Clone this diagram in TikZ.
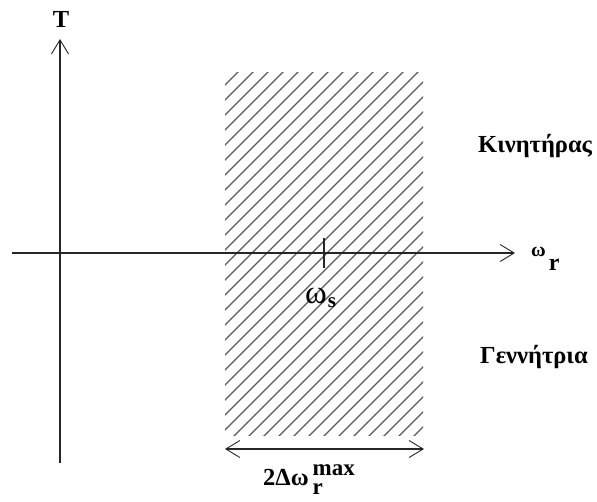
\documentclass[tikz,border=0pt]{standalone}
\usepackage{fontspec}
\setmainfont{Liberation Serif}
\usetikzlibrary{arrows.meta}
\begin{document}
\begin{tikzpicture}[x=1pt,y=-1pt,
  axis/.style={line width=1.1pt,draw=black!85},
  hatch/.style={line width=1.3pt,draw=black!65},
  lbl/.style={font=\bfseries\fontsize{24.5}{28}\selectfont,inner sep=0pt},
  barb/.tip={Straight Barb[length=14pt,width=17pt,line width=0.9pt]}]
\useasboundingbox (0,0) rectangle (597,501);
% hatching
\begin{scope}
\clip (225,72) rectangle (423,435);
\foreach \i in {0,15,...,600}{
  \draw[hatch] (\i-160,440) -- (\i+230,50);
}
\end{scope}
% axes
\coordinate (ybot) at (60,463);
\coordinate (ytop) at (60,39);
\coordinate (xl) at (12,253);
\coordinate (xr) at (515,253);
\draw[axis,-barb] (ybot) -- (ytop);
\draw[axis,-barb] (xl) -- (xr);
\coordinate (t1) at (324,238);
\coordinate (t2) at (324,268);
\draw[axis] (t1) -- (t2);
% double arrow
\coordinate (da) at (225,449);
\coordinate (db) at (424,449);
\draw[axis,barb-barb] (da) -- (db);
% labels
\node[lbl,anchor=base] (T) at (61,27) {T};
\node[lbl,anchor=base west] (wr) at (531,256) {{\fontsize{20}{22}\selectfont ω}\kern3pt\raisebox{-14pt}{\fontsize{24}{26}\selectfont r}};
\node[lbl,anchor=base west] (ws) at (305,303) {{\mdseries\fontsize{33}{34}\selectfont ω}\kern1pt\raisebox{-4pt}{\fontsize{21}{24}\selectfont s}};
\node[lbl,anchor=base west] (kin) at (478,152) {Κινητήρας};
\node[lbl,anchor=base west] (gen) at (480,363) {Γεννήτρια};
\node[lbl,anchor=base west] (dw) at (263,485) {2Δω\kern4pt{\fontsize{23}{26}\selectfont\rlap{\raisebox{-9pt}{r}}\raisebox{10pt}{max}}};
\end{tikzpicture}
\end{document}
